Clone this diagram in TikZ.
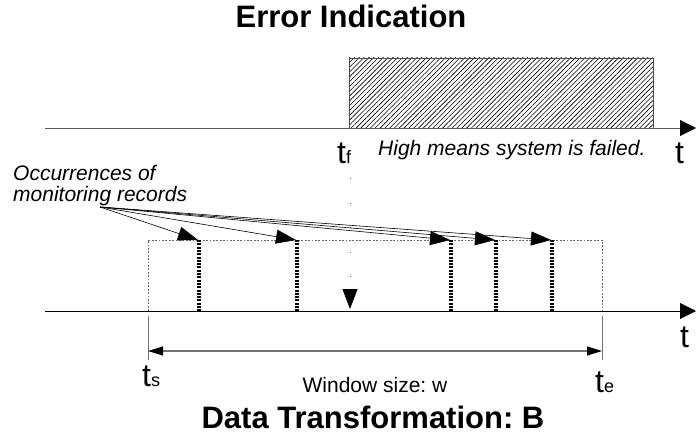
\documentclass[tikz,border=0pt]{standalone}
\usepackage{fontspec}
\setmainfont{Liberation Sans}
\usetikzlibrary{arrows.meta,patterns.meta}

% subscripted time label: t followed by a small index on the same baseline
\newcommand\tlab[1]{t{\fontsize{18}{18}\selectfont #1}}

\begin{document}
\frenchspacing
\begin{tikzpicture}[x=1pt,y=-1pt,
  title/.style={font=\bfseries\fontsize{31}{31}\selectfont, anchor=base, inner sep=0},
  note/.style={font=\fontsize{21}{21}\selectfont, inner sep=0},
  tname/.style={font=\fontsize{32}{32}\selectfont, anchor=base west, inner sep=0},
  timeaxis/.style={line width=1pt, -{Triangle[length=16pt,width=16pt,color=black]}},
  tickline/.style={draw=black!55, line width=1pt},
  failbox/.style={draw=black!70, line width=0.8pt,
    pattern={Lines[angle=45,distance=3.4pt,line width=0.6pt]}},
  windowbox/.style={draw=black!60, line width=0.8pt, dash pattern=on 1.8pt off 1.6pt},
  record/.style={line width=3.4pt, dash pattern=on 2pt off 1.3pt},
  pointer/.style={line width=0.6pt, -{Triangle[length=20pt,width=14pt]}},
  span/.style={draw=black!55, line width=1.2pt,
    {Triangle[length=15pt,width=9pt,color=black]}-{Triangle[length=15pt,width=9pt,color=black]}},
  failmark/.style={draw=black!60, line width=1pt, dash pattern=on 1pt off 23.5pt,
    -{Triangle[length=20pt,width=15pt,color=black]}}
]
\useasboundingbox (0,0) rectangle (696,436);

% ---------- titles ----------
\node[title] (ttop) at (351,28) {Error Indication};
\node[title] (tbot) at (373,428) {Data Transformation: B};

% ---------- error indication signal ----------
\coordinate (ea) at (45,128);
\coordinate (eb) at (696,128);
\draw[failbox] (349,128) rectangle (653,58);
\draw[timeaxis, draw=black!65] (ea) -- (eb);
\node[tname] (t1) at (675,163) {t};
\node[tname] (tf) at (337,163) {\tlab{f}};
\node[note, font=\itshape\fontsize{21}{21}\selectfont, anchor=base west] (high) at (378,155)
  {High means system is failed.};

% ---------- data transformation axis ----------
\coordinate (da) at (45,311);
\coordinate (db) at (696,311);
\coordinate (ts0) at (148,311);
\coordinate (te0) at (602,311);
\draw[windowbox] (ts0) -- (148,240) -- (602,240) -- (te0);
\draw[timeaxis] (da) -- (db);
\node[tname] (t2) at (680,347) {t};

% failure instant projected onto the lower axis
\coordinate (fa) at (350,178);
\coordinate (fb) at (350,309);
\draw[failmark] (fa) -- (fb);

% monitoring records inside the window
\foreach \x [count=\i] in {199,297,451,496,552} {
  \coordinate (r\i) at (\x,240);
  \draw[record] (r\i) -- (\x,311);
}

% annotation for the records
\node[note, font=\itshape\fontsize{21}{21}\selectfont, align=left, anchor=north west]
  (occ) at (13,165) {Occurrences of\\monitoring records};
\coordinate (src) at (100,207);
\foreach \i in {1,...,5} {
  \draw[pointer] (src) -- ([xshift=-1pt]r\i);
}

% ---------- window size ----------
\coordinate (tsa) at (148,316);
\coordinate (tsb) at (148,360);
\coordinate (tea) at (602,316);
\coordinate (teb) at (602,360);
\draw[tickline] (tsa) -- (tsb);
\draw[tickline] (tea) -- (teb);
\coordinate (wa) at (148,351);
\coordinate (wb) at (602,351);
\draw[span] (wa) -- (wb);
\node[tname] (ts) at (142,386) {\tlab{s}};
\node[tname] (te) at (595,392) {\tlab{e}};
\node[note, anchor=base] (wsize) at (375,392) {Window size: w};
\end{tikzpicture}
\end{document}
